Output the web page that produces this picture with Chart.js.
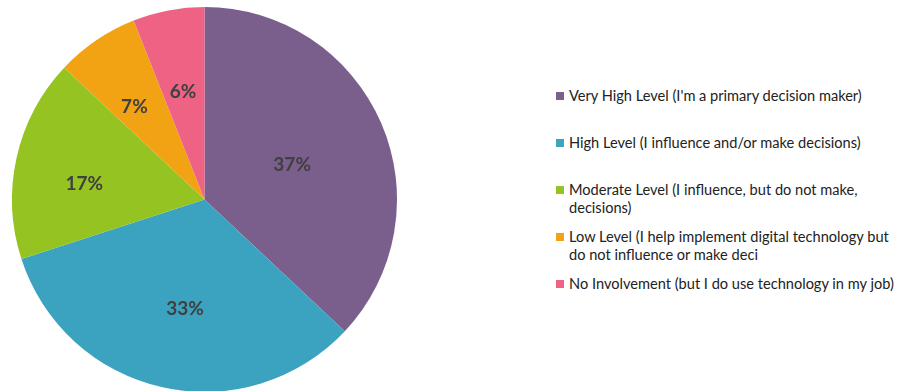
<!DOCTYPE html>
<html>
<head>
<meta charset="utf-8">
<script src="https://cdn.jsdelivr.net/npm/chart.js@4/dist/chart.umd.min.js"></script>
<style>
  html, body { margin: 0; padding: 0; background: #fff; overflow: hidden; }
  #wrap { position: relative; width: 897px; height: 391px; }
  #pieBox { position: absolute; left: 0; top: 0; width: 409px; height: 400px; }
  #legend { position: absolute; left: 556px; top: 0; font-family: Lato, "Open Sans", sans-serif; font-size: 14.6px; color: #222; }
  .item { position: absolute; left: 0; white-space: nowrap; line-height: 18px; }
  .swatch { position: absolute; left: 0; top: 5px; width: 8px; height: 8px; }
  .txt { position: absolute; left: 13px; top: 0; }
</style>
</head>
<body>
<div id="wrap">
  <div id="pieBox"><canvas id="pie"></canvas></div>
  <div id="legend"></div>
</div>
<script>
// Involvement level in digital technology decisions (share of respondents, %)
const categories = [
  "Very High Level (I'm a primary decision maker)",
  "High Level (I influence and/or make decisions)",
  "Moderate Level (I influence, but do not make,\ndecisions)",
  "Low Level (I help implement digital technology but\ndo not influence or make deci",
  "No Involvement (but I do use technology in my job)"
];
const shares = [37, 33, 17, 7, 6];
const valueLabels = ["37%", "33%", "17%", "7%", "6%"];

const sliceColors = ["#7a5e8c", "#3ba2c0", "#95c422", "#f1a314", "#ee6283"];
// label placement: distance along the slice (fraction of radius) and a small turn off its bisector (degrees)
const labelReach = [0.49, 0.575, 0.63, 0.605, 0.572];
const labelTurn = [1.7, -2.5, -5.3, -2.8, -0.5];

const sliceLabels = {
  id: 'sliceLabels',
  afterDatasetsDraw(chart) {
    const ctx = chart.ctx;
    const meta = chart.getDatasetMeta(0);
    ctx.save();
    ctx.font = 'bold 19px Lato, "Open Sans", sans-serif';
    ctx.fillStyle = '#404040';
    ctx.textAlign = 'center';
    ctx.textBaseline = 'middle';
    meta.data.forEach((arc, i) => {
      const p = arc.getProps(['x', 'y', 'startAngle', 'endAngle', 'outerRadius'], true);
      const mid = (p.startAngle + p.endAngle) / 2 + labelTurn[i] * Math.PI / 180;
      const r = p.outerRadius * labelReach[i];
      ctx.fillText(valueLabels[i], p.x + Math.cos(mid) * r, p.y + Math.sin(mid) * r);
    });
    ctx.restore();
  }
};

new Chart(document.getElementById('pie'), {
  type: 'pie',
  data: {
    labels: categories,
    datasets: [{
      data: shares,
      backgroundColor: sliceColors,
      borderWidth: 0
    }]
  },
  options: {
    responsive: true,
    maintainAspectRatio: false,
    animation: false,
    layout: { padding: { top: 7, bottom: 8 } },
    plugins: {
      legend: { display: false },
      tooltip: { enabled: false }
    }
  },
  plugins: [sliceLabels]
});

// Legend: one entry every 47px, wrapped entries run onto a second line
const legend = document.getElementById('legend');
categories.forEach((label, i) => {
  const item = document.createElement('div');
  item.className = 'item';
  item.style.top = (87 + i * 47) + 'px';
  const sw = document.createElement('span');
  sw.className = 'swatch';
  sw.style.background = sliceColors[i];
  const t = document.createElement('span');
  t.className = 'txt';
  t.innerHTML = label.split('\n').map(s => s.replace(/&/g, '&amp;').replace(/</g, '&lt;')).join('<br>');
  item.appendChild(sw);
  item.appendChild(t);
  legend.appendChild(item);
});
</script>
</body>
</html>
